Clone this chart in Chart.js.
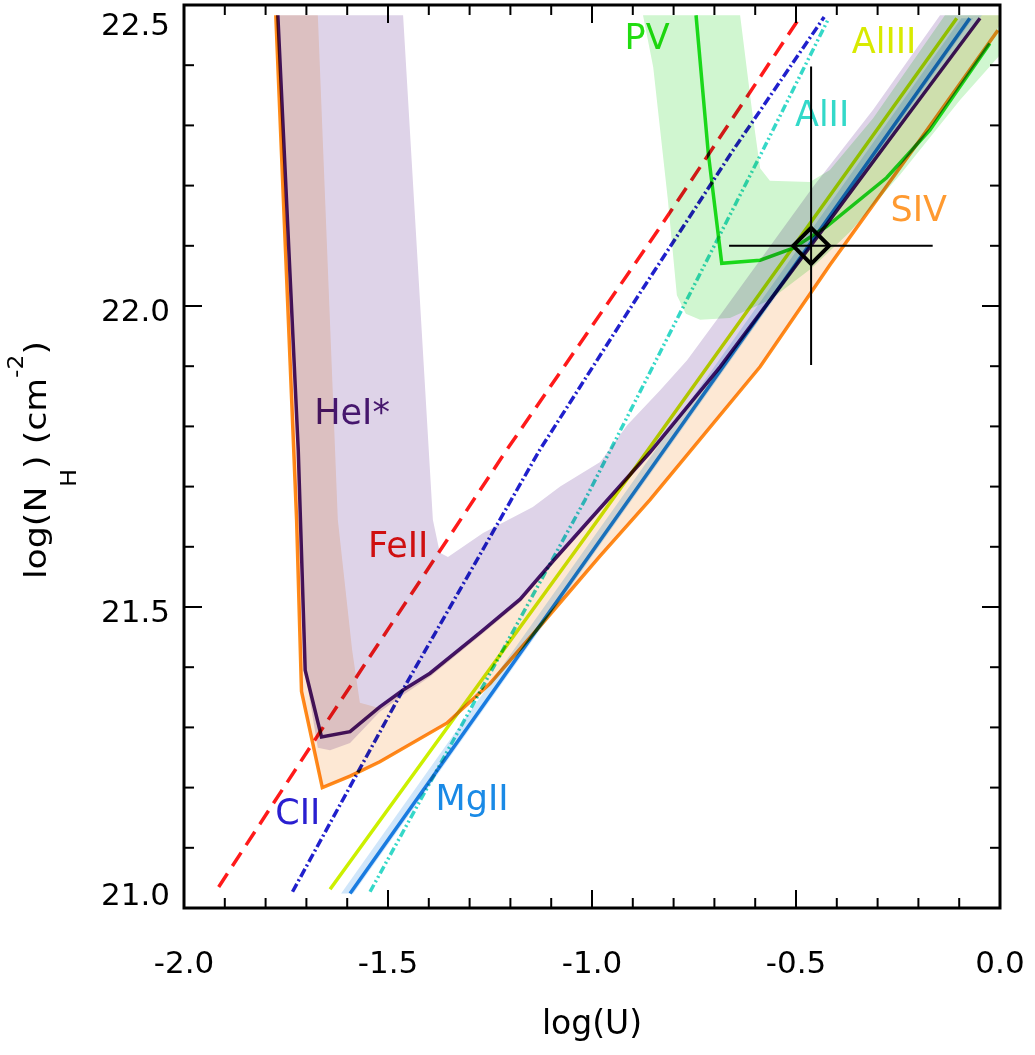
<!DOCTYPE html>
<html>
<head>
<meta charset="utf-8">
<title>log(U) - log(NH)</title>
<script src="https://cdn.jsdelivr.net/npm/chart.js@4.4.1/dist/chart.umd.min.js"></script>
<style>
  html, body { margin: 0; padding: 0; background: #ffffff; }
  #box { position: relative; width: 1035px; height: 1055px; }
</style>
</head>
<body>
<div id="box"><canvas id="plot"></canvas></div>
<script>
// ───────────────
// Curves: x = log(U), y = log(NH)

const heiX = [-1.770, -1.720, -1.703, -1.663, -1.593, -1.520, -1.463, -1.397, -1.275, -1.176, -1.096, -1.012, -0.858, -0.686, -0.441, -0.278, -0.049];
const heiY = [22.483, 21.761, 21.395, 21.284, 21.293, 21.334, 21.362, 21.390, 21.457, 21.513, 21.576, 21.640, 21.757, 21.899, 22.121, 22.270, 22.478];

const sivX = [-1.775, -1.724, -1.712, -1.661, -1.593, -1.520, -1.356, -1.250, -1.115, -0.980, -0.858, -0.588, -0.417, -0.196, -0.005];
const sivY = [22.483, 21.645, 21.360, 21.200, 21.219, 21.243, 21.307, 21.373, 21.478, 21.585, 21.678, 21.899, 22.068, 22.276, 22.458];

const feiiX = [-1.915, -1.663, -1.209, -0.833, -0.492];
const feiiY = [21.035, 21.296, 21.761, 22.131, 22.478];

const ciiX = [-1.734, -1.454, -1.128, -0.882, -0.654, -0.431];
const ciiY = [21.027, 21.374, 21.761, 22.022, 22.259, 22.480];

const aliiX = [-1.544, -1.299, -1.017, -0.581, -0.422];
const aliiY = [21.027, 21.329, 21.678, 22.259, 22.475];

const aliiiX = [-1.642, -0.980, -0.106];
const aliiiY = [21.031, 21.650, 22.478];

const mgiiX = [-1.593, -1.101, -0.074];
const mgiiY = [21.024, 21.495, 22.478];

const pvX = [-0.745, -0.715, -0.682, -0.588, -0.507, -0.425, -0.278, -0.172, -0.025];
const pvY = [22.483, 22.254, 22.071, 22.076, 22.096, 22.132, 22.213, 22.292, 22.436];

// shaded uncertainty regions (closed outlines)
const heiBandX = [-1.770, -1.721, -1.703, -1.672, -1.642, -1.593, -1.520, -1.463, -1.397, -1.275, -1.176, -1.096, -1.012, -0.858, -0.686, -0.441, -0.277, -0.044,
                  -0.147, -0.311, -0.458, -0.694, -0.767, -0.833, -0.914, -0.980, -1.078, -1.145, -1.267, -1.353, -1.373, -1.390, -1.463];
const heiBandY = [22.483, 21.761, 21.392, 21.266, 21.262, 21.274, 21.326, 21.354, 21.384, 21.452, 21.508, 21.571, 21.635, 21.752, 21.894, 22.116, 22.266, 22.483,
                  22.483, 22.326, 22.198, 21.977, 21.910, 21.860, 21.802, 21.741, 21.700, 21.666, 21.623, 21.583, 21.590, 21.645, 22.483];

const sivBandX = [-1.775, -1.724, -1.712, -1.661, -1.593, -1.520, -1.356, -1.250, -1.115, -0.980, -0.858, -0.588, -0.417, -0.196, 0.000, 0.000,
                  -0.044, -0.277, -0.441, -0.686, -0.858, -1.012, -1.096, -1.176, -1.275, -1.397, -1.463, -1.520, -1.569, -1.588, -1.623, -1.672];
const sivBandY = [22.483, 21.645, 21.360, 21.200, 21.219, 21.243, 21.307, 21.373, 21.478, 21.585, 21.678, 21.899, 22.068, 22.276, 22.467, 22.483,
                  22.483, 22.269, 22.120, 21.897, 21.756, 21.638, 21.575, 21.512, 21.455, 21.389, 21.360, 21.332, 21.341, 21.429, 21.645, 22.483];

const pvBandX = [-0.875, -0.850, -0.814, -0.792, -0.770, -0.735, -0.662, -0.564, -0.461, -0.368, -0.245, -0.098, 0.000, 0.000,
                 -0.135, -0.311, -0.417, -0.466, -0.564, -0.588, -0.608, -0.637];
const pvBandY = [22.483, 22.397, 22.176, 22.018, 21.987, 21.977, 21.980, 22.010, 22.063, 22.123, 22.218, 22.342, 22.417, 22.483,
                 22.483, 22.312, 22.226, 22.206, 22.208, 22.229, 22.326, 22.483];

const mgiiBandX = [-1.615, -0.095, -0.066, -1.585];
const mgiiBandY = [21.024, 22.478, 22.478, 21.024];

// measured point with its error bars
const obsX = -0.463, obsY = 22.100;
const obsErrX = [-0.664, -0.165];
const obsErrY = [21.902, 22.398];

// ion labels
const labelText  = ['HeI*', 'FeII', 'CII', 'MgII', 'PV', 'AlIII', 'AlII', 'SIV'];
const labelX     = [-1.588, -1.475, -1.721, -1.294, -0.865, -0.284, -0.436, -0.199];
const labelY     = [21.819, 21.598, 21.154, 21.178, 22.442, 22.435, 22.314, 22.156];
const labelColor = ['#4f1a78', '#ee1111', '#2a1fd0', '#1a8ae6', '#22dd11', '#d8ea00', '#33d9c9', '#ff9a30'];

// axes
const xTicks = [-2.0, -1.5, -1.0, -0.5, 0.0];
const yTicks = [21.0, 21.5, 22.0, 22.5];

// ───────────────
const FONT = '"DejaVu Sans", sans-serif';

function pts(xs, ys) {
  return xs.map((x, i) => ({ x, y: ys[i] }));
}

function curve(label, xs, ys, color, dash) {
  return {
    label, data: pts(xs, ys), showLine: true, fill: false, tension: 0,
    borderColor: color, borderWidth: 3.5, borderDash: dash || [],
    pointRadius: 0, order: 1
  };
}

function band(label, xs, ys, color) {
  return {
    label, data: pts(xs, ys), showLine: true, fill: 'shape', tension: 0,
    borderColor: 'rgba(0,0,0,0)', borderWidth: 1, backgroundColor: color,
    pointRadius: 0, order: 5
  };
}

function noPad(s) {
  s.paddingTop = 0; s.paddingBottom = 0; s.paddingLeft = 0; s.paddingRight = 0;
}

// overlapping shades darken each other, as in the original figure
const decor = {
  id: 'decor',
  beforeDraw(chart) {
    chart.ctx.globalCompositeOperation = 'multiply';
  },
  afterDatasetsDraw(chart) {
    const { ctx, scales: { x, y } } = chart;
    ctx.save();
    ctx.font = '35px ' + FONT;
    ctx.textAlign = 'center';
    ctx.textBaseline = 'middle';
    labelText.forEach((t, i) => {
      ctx.fillStyle = labelColor[i];
      ctx.fillText(t, x.getPixelForValue(labelX[i]), y.getPixelForValue(labelY[i]));
    });
    ctx.restore();
  },
  afterDraw(chart) {
    const { ctx, chartArea: a, scales: { x, y } } = chart;
    const seg = (x1, y1, x2, y2) => { ctx.beginPath(); ctx.moveTo(x1, y1); ctx.lineTo(x2, y2); ctx.stroke(); };
    ctx.save();
    ctx.strokeStyle = '#000';
    ctx.fillStyle = '#000';

    // inward tick marks on all four sides
    ctx.lineWidth = 2;
    for (let i = 0; i <= 20; i++) {
      const px = x.getPixelForValue(-2 + i * 0.1);
      const len = i % 5 === 0 ? 18 : 10;
      seg(px, a.bottom, px, a.bottom - len);
      seg(px, a.top, px, a.top + len);
    }
    for (let i = 0; i <= 15; i++) {
      const py = y.getPixelForValue(21 + i * 0.1);
      const len = i % 5 === 0 ? 18 : 10;
      seg(a.left, py, a.left + len, py);
      seg(a.right, py, a.right - len, py);
    }
    ctx.lineWidth = 3;
    ctx.strokeRect(a.left, a.top, a.right - a.left, a.bottom - a.top);

    // y tick labels, kept inside the frame height
    ctx.font = '31px ' + FONT;
    ctx.textAlign = 'right';
    ctx.textBaseline = 'middle';
    yTicks.forEach(v => {
      let py = y.getPixelForValue(v) + 7;
      py = Math.max(a.top + 22, Math.min(a.bottom - 11, py));
      ctx.fillText(v.toFixed(1), a.left - 14, py);
    });

    // y title: log(N_H) (cm^-2)
    const parts = [
      { t: 'log(N', size: 31, dy: 0 },
      { t: 'H', size: 21, dy: 30 },
      { t: ') (cm', size: 31, dy: 0 },
      { t: '-2', size: 21, dy: -23 },
      { t: ')', size: 31, dy: 0 }
    ];
    let total = 0;
    parts.forEach(p => { ctx.font = p.size + 'px ' + FONT; p.w = ctx.measureText(p.t).width; total += p.w; });
    ctx.translate(46, 460);
    ctx.rotate(-Math.PI / 2);
    ctx.scale(1.12, 1);
    ctx.textAlign = 'left';
    ctx.textBaseline = 'alphabetic';
    let cx = -total / 2;
    parts.forEach(p => {
      ctx.font = p.size + 'px ' + FONT;
      ctx.fillText(p.t, cx, p.dy);
      cx += p.w;
    });
    ctx.restore();
    ctx.globalCompositeOperation = 'source-over';
  }
};

new Chart(document.getElementById('plot'), {
  type: 'scatter',
  data: {
    datasets: [
      band('HeI* band', heiBandX, heiBandY, 'rgb(222,211,232)'),
      band('SIV band', sivBandX, sivBandY, 'rgb(253,232,212)'),
      band('PV band', pvBandX, pvBandY, 'rgb(208,246,208)'),
      band('MgII band', mgiiBandX, mgiiBandY, 'rgb(208,230,250)'),
      curve('FeII', feiiX, feiiY, '#ff1a1a', [16, 9]),
      curve('CII', ciiX, ciiY, '#2020cc', [9, 3, 2, 3]),
      curve('AlII', aliiX, aliiY, '#35d8c8', [8, 3, 2, 3, 2, 3]),
      curve('AlIII', aliiiX, aliiiY, '#ccf000'),
      curve('MgII', mgiiX, mgiiY, '#1e88e5'),
      curve('SIV', sivX, sivY, '#ff8c1a'),
      curve('HeI*', heiX, heiY, '#4b1670'),
      curve('PV', pvX, pvY, '#20e020'),
      {
        label: 'err x', data: pts(obsErrX, [obsY, obsY]), showLine: true,
        borderColor: '#000', borderWidth: 2, pointRadius: 0, order: 0
      },
      {
        label: 'err y', data: pts([obsX, obsX], obsErrY), showLine: true,
        borderColor: '#000', borderWidth: 2, pointRadius: 0, order: 0
      },
      {
        label: 'observed', data: [{ x: obsX, y: obsY }],
        pointStyle: 'rectRot', pointRadius: 18, borderWidth: 4,
        borderColor: '#000', backgroundColor: 'rgba(0,0,0,0)', order: 0
      }
    ]
  },
  options: {
    responsive: true,
    maintainAspectRatio: false,
    animation: false,
    devicePixelRatio: 1,
    layout: { autoPadding: false, padding: { top: 5, right: 35, bottom: 0, left: 0 } },
    plugins: {
      legend: { display: false },
      tooltip: { enabled: false }
    },
    scales: {
      x: {
        type: 'linear', min: -2, max: 0,
        afterBuildTicks: s => { s.ticks = xTicks.map(v => ({ value: v })); },
        afterFit: s => { s.height = 147; noPad(s); },
        grid: { display: false, drawTicks: false },
        border: { display: false },
        ticks: {
          color: '#000', padding: 38, maxRotation: 0,
          font: { family: FONT, size: 31 },
          callback: v => Number(v).toFixed(1)
        },
        title: {
          display: true, text: 'log(U)', color: '#000',
          font: { family: FONT, size: 33 }, padding: { top: 0, bottom: 10 }
        }
      },
      y: {
        type: 'linear', min: 21, max: 22.5,
        afterFit: s => { s.width = 184; noPad(s); },
        grid: { display: false, drawTicks: false },
        border: { display: false },
        ticks: { display: false }
      }
    }
  },
  plugins: [decor]
});
</script>
</body>
</html>
